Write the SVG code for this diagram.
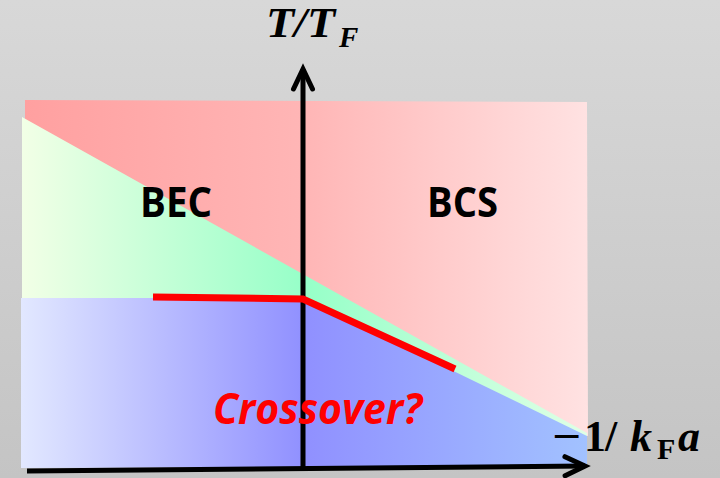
<svg xmlns="http://www.w3.org/2000/svg" width="720" height="478" viewBox="0 0 720 478">
  <style>
    .ax { stroke: #000; stroke-width: 5; fill: none; }
    .lbl { font-family: "Open Sans", "Liberation Sans", sans-serif; font-weight: bold; font-size: 42px; fill: #000; }
    .math { font-family: "Liberation Serif", "DejaVu Serif", serif; font-weight: bold; fill: #000; }
  </style>
  <defs>
    <linearGradient id="bg" x1="0" y1="0" x2="0" y2="1">
      <stop offset="0" stop-color="#d8d8d8"/>
      <stop offset="1" stop-color="#c4c4c4"/>
    </linearGradient>
    <linearGradient id="pink" gradientUnits="userSpaceOnUse" x1="24" y1="0" x2="588" y2="0">
      <stop offset="0" stop-color="#ffa0a0"/>
      <stop offset="0.5" stop-color="#ffb6b6"/>
      <stop offset="1" stop-color="#ffe2e2"/>
    </linearGradient>
    <linearGradient id="green" gradientUnits="userSpaceOnUse" x1="22" y1="0" x2="588" y2="0">
      <stop offset="0" stop-color="#f2ffe6"/>
      <stop offset="0.5" stop-color="#96ffc8"/>
      <stop offset="1" stop-color="#e0ffe6"/>
    </linearGradient>
    <linearGradient id="blue" gradientUnits="userSpaceOnUse" x1="21" y1="0" x2="588" y2="0">
      <stop offset="0" stop-color="#e2e8ff"/>
      <stop offset="0.5" stop-color="#9090ff"/>
      <stop offset="1" stop-color="#a2c2ff"/>
    </linearGradient>
    <marker id="arr" viewBox="-26 -14 32 28" markerWidth="32" markerHeight="28" refX="0" refY="0" orient="auto" markerUnits="userSpaceOnUse">
      <path d="M-20,-9.5 L0,0 L-20,9.5" fill="none" stroke="#000" stroke-width="5" stroke-linecap="round" stroke-linejoin="miter"/>
    </marker>
  </defs>

  <rect width="720" height="478" fill="url(#bg)"/>

  <g id="regions">
    <polygon id="pink-region" points="25,100 587,102 588,436 25,300" fill="url(#pink)"/>
    <polygon id="green-region" points="22,117 587,433 587,440 303,298 22,298" fill="url(#green)"/>
    <polygon id="blue-region" points="21,298 303,298 587,436 587,466 21,468" fill="url(#blue)"/>
  </g>

  <g id="connectors">
    <line class="ax" x1="303" y1="470" x2="303" y2="69" marker-end="url(#arr)"/>
    <line class="ax" x1="27" y1="471" x2="585" y2="466" marker-end="url(#arr)"/>
    <polyline id="transition" points="153,297 303,299 455,369" fill="none" stroke="#ff0000" stroke-width="7"/>
  </g>

  <g id="BEC">
    <text class="lbl" x="140" y="217" textLength="72" lengthAdjust="spacingAndGlyphs">BEC</text>
  </g>
  <g id="BCS">
    <text class="lbl" x="427" y="217" textLength="71" lengthAdjust="spacingAndGlyphs">BCS</text>
  </g>
  <g id="crossover">
    <text x="213" y="424" font-family="'Open Sans', 'Liberation Sans', sans-serif" font-weight="bold" font-style="italic" font-size="43" fill="#ff0000" textLength="209" lengthAdjust="spacingAndGlyphs">Crossover?</text>
  </g>

  <g id="y-label">
    <text class="math" font-style="italic" font-size="42" x="266" y="37" textLength="69" lengthAdjust="spacingAndGlyphs">T/T</text>
    <text class="math" font-style="italic" font-size="29" x="339" y="47">F</text>
  </g>
  <g id="x-label">
    <text class="math" font-size="44" x="552" y="451" textLength="29" lengthAdjust="spacingAndGlyphs">−</text>
    <text class="math" font-size="44" y="451"><tspan x="584">1</tspan><tspan x="605">/</tspan><tspan x="630" font-style="italic">k</tspan><tspan x="657" y="459" font-size="30">F</tspan><tspan x="678" y="451" font-style="italic">a</tspan></text>
  </g>
</svg>
